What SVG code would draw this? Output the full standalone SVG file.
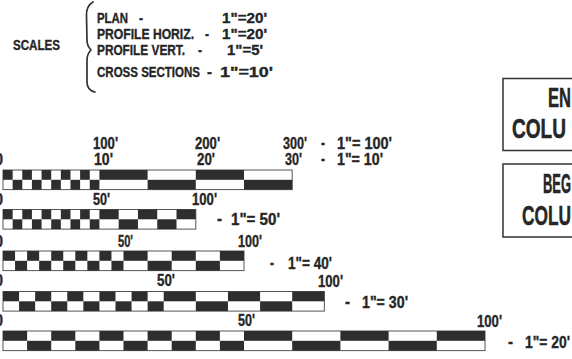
<svg xmlns="http://www.w3.org/2000/svg" width="572" height="359" viewBox="0 0 572 359">
<style>
text{font-family:"Liberation Sans",Arial,sans-serif;font-weight:bold;fill:#262626;stroke:#262626;stroke-width:0.35}
.s{font-size:15px}
.l{font-size:16px}
.b{font-size:27px;stroke-width:0.5}
.k{fill:#2e2e2e}
.o{fill:#fff;stroke:#555;stroke-width:1}
.bx{fill:#fff;stroke:#333;stroke-width:1.5}
.br{fill:none;stroke:#333;stroke-width:1.7;stroke-linecap:round;stroke-linejoin:round}
</style>
<rect width="572" height="359" fill="#fff"/>
<g id="scales-legend">
<text class="s" x="13" y="50" textLength="47" lengthAdjust="spacingAndGlyphs">SCALES</text>
<path class="br" d="M93,2 C88,5 86,9 86.5,16 L87,40 C87,45 89,48 91,50 C89,52 87,55 87,60 L87,82 C87,88 90,91 95,92"/>
<text class="s" y="23"><tspan x="97" textLength="31" lengthAdjust="spacingAndGlyphs">PLAN</tspan><tspan x="139" textLength="4" lengthAdjust="spacingAndGlyphs">-</tspan><tspan x="222" textLength="45" lengthAdjust="spacingAndGlyphs">1"=20'</tspan></text>
<text class="s" y="39"><tspan x="97" textLength="97" lengthAdjust="spacingAndGlyphs">PROFILE HORIZ.</tspan><tspan x="205" textLength="4" lengthAdjust="spacingAndGlyphs">-</tspan><tspan x="222" textLength="45" lengthAdjust="spacingAndGlyphs">1"=20'</tspan></text>
<text class="s" y="55"><tspan x="97" textLength="88" lengthAdjust="spacingAndGlyphs">PROFILE VERT.</tspan><tspan x="198" textLength="4" lengthAdjust="spacingAndGlyphs">-</tspan><tspan x="227" textLength="36" lengthAdjust="spacingAndGlyphs">1"=5'</tspan></text>
<text class="s" y="77"><tspan x="97" textLength="103" lengthAdjust="spacingAndGlyphs">CROSS SECTIONS</tspan><tspan x="207" textLength="5" lengthAdjust="spacingAndGlyphs">-</tspan><tspan x="220" textLength="53" lengthAdjust="spacingAndGlyphs">1"=10'</tspan></text>
</g>
<g id="box-end">
<rect class="bx" x="503" y="78.5" width="80" height="72"/>
<text class="b" x="548" y="107" textLength="23" lengthAdjust="spacingAndGlyphs">EN</text>
<text class="b" x="512" y="138" textLength="54" lengthAdjust="spacingAndGlyphs">COLU</text>
</g>
<g id="box-begin">
<rect class="bx" x="503" y="164" width="80" height="73"/>
<text class="b" x="543" y="193" textLength="28" lengthAdjust="spacingAndGlyphs">BEG</text>
<text class="b" x="522" y="225" textLength="49" lengthAdjust="spacingAndGlyphs">COLU</text>
</g>
<g id="bar-100">
<text class="l" x="93" y="149" textLength="25" lengthAdjust="spacingAndGlyphs">100'</text>
<text class="l" x="195" y="149" textLength="25" lengthAdjust="spacingAndGlyphs">200'</text>
<text class="l" x="283" y="149" textLength="24" lengthAdjust="spacingAndGlyphs">300'</text>
<text class="l" x="321" y="148" textLength="4" lengthAdjust="spacingAndGlyphs">-</text>
<text class="l" x="337" y="149" textLength="55" lengthAdjust="spacingAndGlyphs">1"= 100'</text>
<text class="l" x="-5" y="165" textLength="8" lengthAdjust="spacingAndGlyphs">0</text>
<text class="l" x="94" y="165" textLength="19" lengthAdjust="spacingAndGlyphs">10'</text>
<text class="l" x="197" y="165" textLength="18" lengthAdjust="spacingAndGlyphs">20'</text>
<text class="l" x="285" y="165" textLength="17" lengthAdjust="spacingAndGlyphs">30'</text>
<text class="l" x="321" y="164" textLength="4" lengthAdjust="spacingAndGlyphs">-</text>
<text class="l" x="337" y="165" textLength="46" lengthAdjust="spacingAndGlyphs">1"= 10'</text>
<rect class="o" x="3" y="170" width="289.2" height="19.6"/>
<rect class="k" x="3" y="170" width="9.64" height="9.8"/><rect class="k" x="22.28" y="170" width="9.64" height="9.8"/><rect class="k" x="41.56" y="170" width="9.64" height="9.8"/><rect class="k" x="60.84" y="170" width="9.64" height="9.8"/><rect class="k" x="80.12" y="170" width="9.64" height="9.8"/>
<rect class="k" x="12.64" y="179.8" width="9.64" height="9.8"/><rect class="k" x="31.92" y="179.8" width="9.64" height="9.8"/><rect class="k" x="51.2" y="179.8" width="9.64" height="9.8"/><rect class="k" x="70.48" y="179.8" width="9.64" height="9.8"/><rect class="k" x="89.76" y="179.8" width="9.64" height="9.8"/>
<rect class="k" x="99.4" y="170" width="48.2" height="9.8"/><rect class="k" x="195.8" y="170" width="48.2" height="9.8"/>
<rect class="k" x="147.6" y="179.8" width="48.2" height="9.8"/><rect class="k" x="244" y="179.8" width="48.2" height="9.8"/>
</g>
<g id="bar-50">
<text class="l" x="-5" y="205" textLength="8" lengthAdjust="spacingAndGlyphs">0</text>
<text class="l" x="93" y="205" textLength="17" lengthAdjust="spacingAndGlyphs">50'</text>
<text class="l" x="192" y="205" textLength="25" lengthAdjust="spacingAndGlyphs">100'</text>
<text class="l" x="217" y="224" textLength="5" lengthAdjust="spacingAndGlyphs">-</text>
<text class="l" x="231" y="225" textLength="49" lengthAdjust="spacingAndGlyphs">1"= 50'</text>
<rect class="o" x="3" y="209.5" width="192.8" height="19.6"/>
<rect class="k" x="3" y="209.5" width="9.64" height="9.8"/><rect class="k" x="22.28" y="209.5" width="9.64" height="9.8"/><rect class="k" x="41.56" y="209.5" width="9.64" height="9.8"/><rect class="k" x="60.84" y="209.5" width="9.64" height="9.8"/><rect class="k" x="80.12" y="209.5" width="9.64" height="9.8"/>
<rect class="k" x="12.64" y="219.3" width="9.64" height="9.8"/><rect class="k" x="31.92" y="219.3" width="9.64" height="9.8"/><rect class="k" x="51.2" y="219.3" width="9.64" height="9.8"/><rect class="k" x="70.48" y="219.3" width="9.64" height="9.8"/><rect class="k" x="89.76" y="219.3" width="9.64" height="9.8"/>
<rect class="k" x="99.4" y="209.5" width="19.28" height="9.8"/><rect class="k" x="137.96" y="209.5" width="19.28" height="9.8"/><rect class="k" x="176.52" y="209.5" width="19.28" height="9.8"/>
<rect class="k" x="118.68" y="219.3" width="19.28" height="9.8"/><rect class="k" x="157.24" y="219.3" width="19.28" height="9.8"/>
</g>
<g id="bar-40">
<text class="l" x="-5" y="247" textLength="8" lengthAdjust="spacingAndGlyphs">0</text>
<text class="l" x="118" y="247" textLength="15" lengthAdjust="spacingAndGlyphs">50'</text>
<text class="l" x="238" y="247" textLength="24" lengthAdjust="spacingAndGlyphs">100'</text>
<text class="l" x="270" y="268" textLength="4" lengthAdjust="spacingAndGlyphs">-</text>
<text class="l" x="288" y="269" textLength="44" lengthAdjust="spacingAndGlyphs">1"= 40'</text>
<rect class="o" x="3" y="251" width="241" height="19.6"/>
<rect class="k" x="3" y="251" width="12.05" height="9.8"/><rect class="k" x="27.1" y="251" width="12.05" height="9.8"/><rect class="k" x="51.2" y="251" width="12.05" height="9.8"/><rect class="k" x="75.3" y="251" width="12.05" height="9.8"/><rect class="k" x="99.4" y="251" width="12.05" height="9.8"/>
<rect class="k" x="15.05" y="260.8" width="12.05" height="9.8"/><rect class="k" x="39.15" y="260.8" width="12.05" height="9.8"/><rect class="k" x="63.25" y="260.8" width="12.05" height="9.8"/><rect class="k" x="87.35" y="260.8" width="12.05" height="9.8"/><rect class="k" x="111.45" y="260.8" width="12.05" height="9.8"/>
<rect class="k" x="123.5" y="251" width="24.1" height="9.8"/><rect class="k" x="171.7" y="251" width="24.1" height="9.8"/><rect class="k" x="219.9" y="251" width="24.1" height="9.8"/>
<rect class="k" x="147.6" y="260.8" width="24.1" height="9.8"/><rect class="k" x="195.8" y="260.8" width="24.1" height="9.8"/>
</g>
<g id="bar-30">
<text class="l" x="-5" y="286" textLength="8" lengthAdjust="spacingAndGlyphs">0</text>
<text class="l" x="157" y="286" textLength="18" lengthAdjust="spacingAndGlyphs">50'</text>
<text class="l" x="318" y="287" textLength="25" lengthAdjust="spacingAndGlyphs">100'</text>
<text class="l" x="345" y="307" textLength="5" lengthAdjust="spacingAndGlyphs">-</text>
<text class="l" x="362" y="308" textLength="46" lengthAdjust="spacingAndGlyphs">1"= 30'</text>
<rect class="o" x="3" y="291.5" width="321.35" height="19.6"/>
<rect class="k" x="3" y="291.5" width="16.07" height="9.8"/><rect class="k" x="35.14" y="291.5" width="16.07" height="9.8"/><rect class="k" x="67.28" y="291.5" width="16.07" height="9.8"/><rect class="k" x="99.42" y="291.5" width="16.07" height="9.8"/><rect class="k" x="131.56" y="291.5" width="16.07" height="9.8"/>
<rect class="k" x="19.07" y="301.3" width="16.07" height="9.8"/><rect class="k" x="51.21" y="301.3" width="16.07" height="9.8"/><rect class="k" x="83.35" y="301.3" width="16.07" height="9.8"/><rect class="k" x="115.49" y="301.3" width="16.07" height="9.8"/><rect class="k" x="147.63" y="301.3" width="16.07" height="9.8"/>
<rect class="k" x="163.7" y="291.5" width="32.13" height="9.8"/><rect class="k" x="227.96" y="291.5" width="32.13" height="9.8"/><rect class="k" x="292.22" y="291.5" width="32.13" height="9.8"/>
<rect class="k" x="195.83" y="301.3" width="32.13" height="9.8"/><rect class="k" x="260.09" y="301.3" width="32.13" height="9.8"/>
</g>
<g id="bar-20">
<text class="l" x="-5" y="326" textLength="8" lengthAdjust="spacingAndGlyphs">0</text>
<text class="l" x="238" y="326" textLength="17" lengthAdjust="spacingAndGlyphs">50'</text>
<text class="l" x="477" y="327" textLength="25" lengthAdjust="spacingAndGlyphs">100'</text>
<text class="l" x="508" y="347" textLength="5" lengthAdjust="spacingAndGlyphs">-</text>
<text class="l" x="525" y="348" textLength="45" lengthAdjust="spacingAndGlyphs">1"= 20'</text>
<rect class="o" x="3" y="331" width="482" height="19.6"/>
<rect class="k" x="3" y="331" width="24.1" height="9.8"/><rect class="k" x="51.2" y="331" width="24.1" height="9.8"/><rect class="k" x="99.4" y="331" width="24.1" height="9.8"/><rect class="k" x="147.6" y="331" width="24.1" height="9.8"/><rect class="k" x="195.8" y="331" width="24.1" height="9.8"/>
<rect class="k" x="27.1" y="340.8" width="24.1" height="9.8"/><rect class="k" x="75.3" y="340.8" width="24.1" height="9.8"/><rect class="k" x="123.5" y="340.8" width="24.1" height="9.8"/><rect class="k" x="171.7" y="340.8" width="24.1" height="9.8"/><rect class="k" x="219.9" y="340.8" width="24.1" height="9.8"/>
<rect class="k" x="244" y="331" width="48.2" height="9.8"/><rect class="k" x="340.4" y="331" width="48.2" height="9.8"/><rect class="k" x="436.8" y="331" width="48.2" height="9.8"/>
<rect class="k" x="292.2" y="340.8" width="48.2" height="9.8"/><rect class="k" x="388.6" y="340.8" width="48.2" height="9.8"/>
</g>
</svg>
